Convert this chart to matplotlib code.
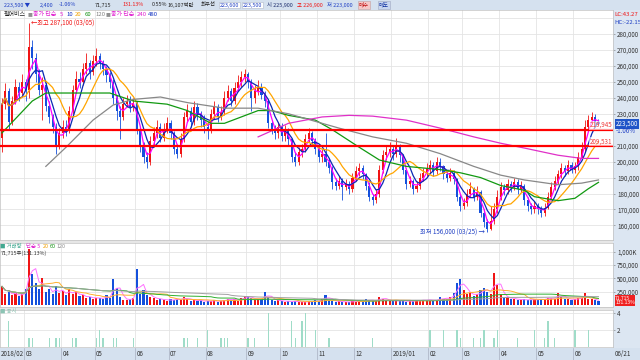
import numpy as np
import pandas as pd
import matplotlib
matplotlib.use('Agg')
import matplotlib.pyplot as plt
from matplotlib.patches import Rectangle

plt.rcParams['font.family'] = ['Noto Sans CJK KR', 'DejaVu Sans']

## 펄어비스 price chart, one candle per two trading days, prices in 1,000 won
open0 = 215
close = [236, 244, 225, 238, 247, 243, 250, 245, 272, 265,
         255, 245, 248, 235, 228, 222, 210, 218, 222, 220,
         232, 245, 252, 250, 258, 262, 256, 263, 266, 262,
         258, 254, 250, 240, 232, 228, 236, 238, 234, 237,
         220, 210, 203, 200, 213, 218, 222, 215, 220, 224,
         218, 208, 205, 214, 228, 232, 225, 234, 230, 226,
         222, 220, 230, 234, 228, 231, 240, 244, 238, 246,
         250, 253, 255, 250, 240, 244, 247, 242, 238, 224,
         220, 218, 222, 216, 219, 214, 203, 200, 206, 208,
         214, 218, 213, 208, 203, 205, 200, 196, 187, 185,
         188, 184, 186, 183, 190, 194, 196, 192, 185, 178,
         176, 180, 195, 204, 206, 208, 205, 210, 204, 195,
         186, 188, 183, 185, 190, 193, 196, 198, 194, 200,
         197, 192, 190, 193, 189, 178, 172, 174, 180, 183,
         178, 181, 168, 162, 158, 163, 170, 178, 184, 182,
         186, 184, 187, 183, 185, 176, 172, 170, 172, 170,
         168, 171, 178, 184, 188, 192, 196, 194, 198, 195,
         197, 203, 208, 222, 226, 228, 225, 223.5]
high = [240, 249, 246, 241, 252, 250, 255, 252, 287.1, 276,
        268, 258, 253, 250, 238, 230, 224, 221, 226, 226,
        235, 248, 257, 256, 262, 268, 264, 267, 271, 268,
        264, 260, 256, 252, 242, 235, 240, 242, 241, 240,
        238, 222, 212, 206, 216, 222, 226, 224, 224, 228,
        226, 219, 211, 218, 231, 236, 234, 238, 237, 232,
        229, 225, 233, 238, 236, 235, 244, 248, 246, 250,
        254, 257, 258, 256, 252, 248, 251, 249, 244, 239,
        226, 223, 225, 224, 223, 221, 215, 206, 209, 211,
        217, 221, 219, 215, 210, 208, 218, 202, 197, 190,
        191, 190, 189, 188, 193, 197, 199, 198, 193, 187,
        180, 183, 198, 207, 210, 212, 210, 215, 211, 205,
        196, 191, 189, 188, 193, 196, 199, 201, 200, 203,
        202, 198, 194, 196, 195, 190, 180, 177, 183, 187,
        184, 185, 182, 170, 164, 172, 174, 182, 187, 186,
        189, 188, 190, 189, 188, 186, 178, 174, 175, 174,
        172, 174, 181, 187, 191, 195, 199, 198, 201, 200,
        200, 206, 212, 226, 229, 231, 230, 226.9]
low = [206, 233, 220, 223, 236, 238, 241, 238, 240, 258,
       250, 242, 226, 232, 224, 218, 205, 208, 215, 216,
       218, 230, 243, 246, 248, 255, 252, 254, 260, 258,
       254, 250, 246, 236, 226, 214, 226, 234, 231, 232,
       217, 206, 199, 196, 198, 210, 215, 212, 213, 218,
       214, 205, 202, 203, 212, 225, 222, 223, 226, 222,
       218, 214, 218, 227, 225, 226, 229, 238, 235, 236,
       244, 247, 250, 246, 232, 237, 242, 239, 234, 221,
       217, 214, 215, 213, 213, 210, 200, 197, 198, 203,
       206, 212, 210, 205, 200, 200, 197, 193, 183, 182,
       183, 176, 182, 180, 181, 188, 191, 189, 182, 175,
       173, 174, 178, 193, 201, 203, 201, 203, 200, 192,
       183, 184, 180, 181, 183, 188, 191, 193, 191, 192,
       194, 189, 187, 188, 186, 175, 169, 170, 172, 178,
       175, 176, 165, 159, 156, 157, 161, 168, 176, 179,
       180, 181, 182, 180, 181, 173, 169, 167, 168, 167,
       165, 166, 170, 176, 182, 186, 190, 191, 192, 193,
       193, 195, 201, 206, 220, 224, 222, 223]
# volume in 1,000 shares
volume = [350, 200, 250, 180, 220, 160, 200, 300, 1050, 580,
          420, 300, 500, 250, 300, 200, 350, 220, 260, 180,
          300, 200, 250, 160, 180, 140, 150, 120, 130, 140,
          110, 180, 130, 490, 320, 150, 100, 90, 120, 140,
          680, 200, 280, 180, 150, 130, 100, 120, 90, 80,
          110, 90, 120, 100, 150, 110, 80, 100, 70, 90,
          60, 80, 70, 90, 60, 80, 100, 120, 90, 110,
          80, 130, 170, 150, 130, 90, 110, 120, 240, 150,
          100, 80, 90, 70, 60, 80, 60, 70, 60, 50,
          60, 70, 60, 90, 70, 120, 190, 90, 80, 60,
          70, 60, 50, 60, 70, 60, 80, 60, 110, 90,
          70, 80, 150, 120, 90, 80, 70, 90, 70, 80,
          60, 80, 70, 90, 80, 100, 90, 100, 80, 90,
          150, 110, 120, 150, 220, 410, 490, 280, 200, 230,
          170, 200, 280, 320, 250, 200, 600, 375, 200, 130,
          150, 110, 120, 100, 90, 110, 90, 100, 110, 90,
          120, 100, 130, 140, 120, 225, 150, 120, 110, 100,
          110, 130, 140, 225, 120, 110, 90, 71.7]

# long moving averages (candle index, price)
ma60_idx = [0, 9, 13, 32, 39, 49, 55, 62, 66, 71, 76, 80, 85, 93, 98, 106, 112,
            120, 130, 136, 142, 148, 155, 158, 165, 170, 174, 177]
ma60_val = [218, 238, 243, 243, 238, 236, 232, 224, 224, 228, 232, 232, 229, 226,
            220, 209, 201, 197, 195, 193, 190, 185, 182, 178, 175.5, 177, 183, 187]
ma120_idx = [13, 19, 27, 33, 39, 47, 55, 66, 76, 85, 95, 100, 110, 120, 130, 140,
             148, 155, 165, 172, 177]
ma120_val = [197, 209, 226, 235.5, 239, 240.5, 237, 233.5, 233.5, 230, 224, 221,
             215.5, 211.5, 205, 197, 191.5, 188.5, 185.5, 186.5, 188.5]
ma240_idx = [76, 85, 95, 103, 110, 120, 130, 140, 148, 155, 165, 172, 177]
ma240_val = [215.5, 224, 228, 229, 228.5, 226, 221, 215.5, 211.5, 208.5, 204, 202, 202]

levels = [219.945, 209.531]
level_labels = ['219,945', '209,531']

# 공시 (disclosures) per candle
disc_idx = [2, 8, 9, 14, 16, 17, 21, 22, 28, 29, 30, 33, 34, 39, 54, 55, 58, 61,
            65, 66, 67, 73, 75, 79, 86, 87, 89, 90, 93, 97, 110, 127, 131, 135,
            136, 140, 142, 143, 146, 147, 153, 158, 161, 162, 164, 170, 174]
disc_cnt = [3, 1, 1, 1, 1, 1, 1, 1, 1, 2, 1, 1, 1, 1, 1, 1, 1, 2, 1, 1, 1, 1, 1,
            4, 3, 1, 3, 4, 2, 1, 1, 2, 2, 2, 1, 1, 1, 2, 1, 2, 1, 2, 1, 3, 1, 2, 2]

RED = '#F01414'
BLUE = '#1450DC'
TXT_BLUE = '#1F3FC4'
GRID = '#E4E4E4'
AXBG = '#DCE6F2'

W, H = 640, 360
n = len(close)
x = np.arange(n)
c = np.array(close, float)
o = np.r_[open0, c[:-1]]
hi = np.maximum(np.array(high, float), np.maximum(o, c))
lo = np.minimum(np.array(low, float), np.minimum(o, c))
up = c >= o
col = np.where(up, RED, BLUE)
dates = pd.bdate_range(end='2019-06-21', periods=2 * n)[1::2]
bounds = [i - 0.5 for i in range(1, n) if dates[i].month != dates[i - 1].month]
blabels = [f'{dates[int(b + 0.5)].year}/01' if dates[int(b + 0.5)].month == 1
           else f'{dates[int(b + 0.5)].month:02d}' for b in bounds]
XL = (-2 / 3.37, 611 / 3.37)


def rect(x0, y0, x1, y1):
    return [x0 / W, 1 - y1 / H, (x1 - x0) / W, (y1 - y0) / H]


def ftext(px, py, s, color, size=3.9, **kw):
    fig.text(px / W, 1 - py / H, s, color=color, fontsize=size,
             va='center', ha='left', **kw)


def style(ax):
    ax.set_xlim(*XL)
    ax.set_xticks([])
    for sp in ax.spines.values():
        sp.set_color('#C0C0C0')
        sp.set_linewidth(0.5)
    for b in bounds:
        ax.axvline(b, color=GRID, lw=0.6, zorder=0)
    ax.yaxis.tick_right()
    ax.tick_params(axis='y', labelsize=4.5, pad=1.5, length=1.5, width=0.4,
                   color='#777777', labelcolor='#333333')


fig = plt.figure(figsize=(6.4, 3.6), dpi=100)
fig.patches.append(Rectangle((0, 1 - 10 / H), 1, 10 / H, transform=fig.transFigure,
                             fc='#D5E1EF', ec='none', zorder=-2))
fig.patches.append(Rectangle((613 / W, 12 / H), 27 / W, 1 - 22 / H, transform=fig.transFigure,
                             fc=AXBG, ec='none', zorder=-2))
fig.patches.append(Rectangle((0, 0), 1, 12 / H, transform=fig.transFigure,
                             fc='#D5E1EF', ec='none', zorder=-2))
for gy0, gy1 in ((240, 243), (307, 310)):
    fig.patches.append(Rectangle((0, 1 - gy1 / H), 613 / W, (gy1 - gy0) / H,
                                 transform=fig.transFigure, fc='#E6E6E6', ec='none', zorder=-2))

# price panel
ax = fig.add_axes(rect(0, 10, 613, 240))
style(ax)
ax.set_ylim(150.85, 295.05)
for v in range(160, 300, 10):
    ax.axhline(v, color=GRID, lw=0.6, zorder=0)
ticks = [v for v in range(160, 290, 10) if v != 220]
ax.set_yticks(ticks)
ax.set_yticklabels([f'{v * 1000:,}' for v in ticks])
ax.vlines(x, lo, hi, colors=col, lw=0.6, zorder=2)
ax.bar(x, np.maximum(np.abs(c - o), 0.4), bottom=np.minimum(o, c), width=0.62,
       color=col, lw=0, zorder=2)
s = pd.Series(c)
ax.plot(x, s.rolling(3, min_periods=1).mean(), color='#FF00FF', lw=0.9, zorder=3)
ax.plot(x, s.rolling(5, min_periods=1).mean(), color='#0A28B4', lw=0.9, zorder=3)
ax.plot(x, s.rolling(10, min_periods=1).mean(), color='#FFA500', lw=0.9, zorder=3)
ax.plot(ma60_idx, ma60_val, color='#119911', lw=0.9, zorder=3)
ax.plot(ma120_idx, ma120_val, color='#888888', lw=0.9, zorder=3)
ax.plot(ma240_idx, ma240_val, color='#E030C8', lw=0.9, zorder=3)
for v, lab in zip(levels, level_labels):
    ax.axhline(v, color='#FF0000', lw=1.6, zorder=4)
    ax.text(XL[1] - 0.3, v + 0.4, lab, ha='right', va='bottom', fontsize=4.5,
            color='#F03A3A', zorder=5,
            bbox=dict(boxstyle='square,pad=0.1', fc='white', ec='none', alpha=0.6))
ax.text(8.6, 287.1, '←최고 287,100 (03/05)', color=RED, fontsize=4.5, va='center', zorder=5)
ax.text(143.3, 156, '최저 156,000 (03/25) →', color=TXT_BLUE, fontsize=4.5,
        va='center', ha='right', zorder=5)
ax.annotate('223,500', xy=(1, 223.5), xycoords=ax.get_yaxis_transform(),
            xytext=(2, 0), textcoords='offset points', va='center', ha='left',
            fontsize=4.5, color='white', annotation_clip=False,
            bbox=dict(boxstyle='square,pad=0.15', fc='#1F55C8', ec='none'))
ax.annotate('-1.06%', xy=(1, 223.5), xycoords=ax.get_yaxis_transform(),
            xytext=(2, -5), textcoords='offset points', va='center', ha='left',
            fontsize=4.5, color=TXT_BLUE, annotation_clip=False)

# legend row
ftext(4, 15, '펄어비스', '#222222', size=4.3)
ftext(28, 15, '■', '#909090', size=3.5)
ftext(33, 15, '종가 단순', '#E020D0', size=4.3)
ftext(60, 15, '5', '#E020D0', size=4.3)
ftext(66, 15, '10', '#1030C0', size=4.3)
ftext(75, 15, '20', '#F0A000', size=4.3)
ftext(85, 15, '60', '#109010', size=4.3)
ftext(95, 15, '120', '#808080', size=4.3)
ftext(106, 15, '■', '#909090', size=3.5)
ftext(111, 15, '종가 단순', '#E020D0', size=4.3)
ftext(137, 15, '240', '#E020D0', size=4.3)
ftext(148, 15, '480', '#1030C0', size=4.3)
ftext(614, 14, 'LC:43.27', RED, size=4.3)
ftext(614, 22, 'HC:-22.15', TXT_BLUE, size=4.3)

# header bar
box = dict(boxstyle='square,pad=0.15', fc='white', ec='#B0B8C8', lw=0.4)
ftext(4, 5, '223,500 ▼', TXT_BLUE)
ftext(40, 5, '2,400', TXT_BLUE)
ftext(59, 5, '-1.06%', TXT_BLUE)
ftext(95, 5, '71,715', '#222222')
ftext(123, 5, '131.13%', RED)
ftext(152, 5, '0.55%', '#222222')
ftext(168, 5, '16,107백만', '#222222')
ftext(201, 5, '최우선', '#222222')
ftext(220, 5, '223,600', TXT_BLUE, bbox=box)
ftext(243, 5, '223,500', TXT_BLUE, bbox=box)
ftext(267, 5, '시 225,900', '#1A2A6A')
ftext(297, 5, '고 226,900', RED)
ftext(327, 5, '저 223,000', TXT_BLUE)
ftext(359, 5, '매수', '#C01010', bbox=dict(boxstyle='square,pad=0.25', fc='#F5C8C8', ec='#C0A0A0', lw=0.4))
ftext(379, 5, '매도', '#1030A0', bbox=dict(boxstyle='square,pad=0.25', fc='#C8D6F0', ec='#A0A8C0', lw=0.4))

# volume panel
vax = fig.add_axes(rect(0, 243, 613, 307))
style(vax)
vax.set_ylim(-37.6, 1165)
for v in (250, 500, 750, 1000):
    vax.axhline(v, color=GRID, lw=0.6, zorder=0)
vax.set_yticks([250, 500, 750, 1000])
vax.set_yticklabels(['250,000', '500,000', '750,000', '1,000K'])
vax.bar(x, volume, width=0.62, color=col, lw=0, zorder=2)
vs = pd.Series(volume, dtype=float)
vax.plot(x, vs.rolling(3, min_periods=1).mean(), color='#FF70FF', lw=0.7, zorder=3)
vax.plot(x, vs.rolling(10, min_periods=1).mean(), color='#FFB030', lw=0.7, zorder=3)
vax.plot(x, vs.rolling(30, min_periods=1).mean(), color='#30B030', lw=0.7, zorder=3)
vax.plot(x, vs.rolling(60, min_periods=1).mean(), color='#A0A0A0', lw=0.7, zorder=3)
vax.annotate('71,715\n131.13%', xy=(1, 85), xycoords=vax.get_yaxis_transform(),
             xytext=(1.5, 0), textcoords='offset points', va='center', ha='left',
             fontsize=3.6, color='white', linespacing=0.9, annotation_clip=False,
             bbox=dict(boxstyle='square,pad=0.1', fc='#F02020', ec='none'))
ftext(0, 246, '■ 거래량', '#40A890')
ftext(26, 246, '단순 5', '#E020D0')
ftext(43, 246, '20', '#F0A000')
ftext(50, 246, '60', '#109010')
ftext(57, 246, '120', '#909090')
ftext(1, 253, '71,715주(131.13%)', '#333333')

# disclosure panel
dax = fig.add_axes(rect(0, 310, 613, 347))
style(dax)
dax.set_ylim(-0.035, 4.31)
for v in (2, 4):
    dax.axhline(v, color=GRID, lw=0.6, zorder=0)
dax.set_yticks([2, 4])
dax.bar(disc_idx, disc_cnt, width=0.4, color='#9FDCC8', lw=0, zorder=2)
ftext(0, 311, '■ 공시', '#8CC4B4')

# date band
bax = fig.add_axes(rect(0, 348, 613, 360))
bax.set_xlim(*XL)
bax.set_ylim(0, 1)
bax.axis('off')
bax.text(-0.5, 0.5, f'{dates[0].year}/{dates[0].month:02d}', fontsize=4.5,
         color='#333333', va='center')
for b, lab in zip(bounds, blabels):
    bax.axvline(b, color='#A8B0C0', lw=0.5)
    bax.text(b + 0.4, 0.5, lab, fontsize=4.5, color='#333333', va='center')
ftext(615, 354, dates[-1].strftime('%m/%d'), '#333333', size=4.5)

fig.savefig('out.png', dpi=100)
